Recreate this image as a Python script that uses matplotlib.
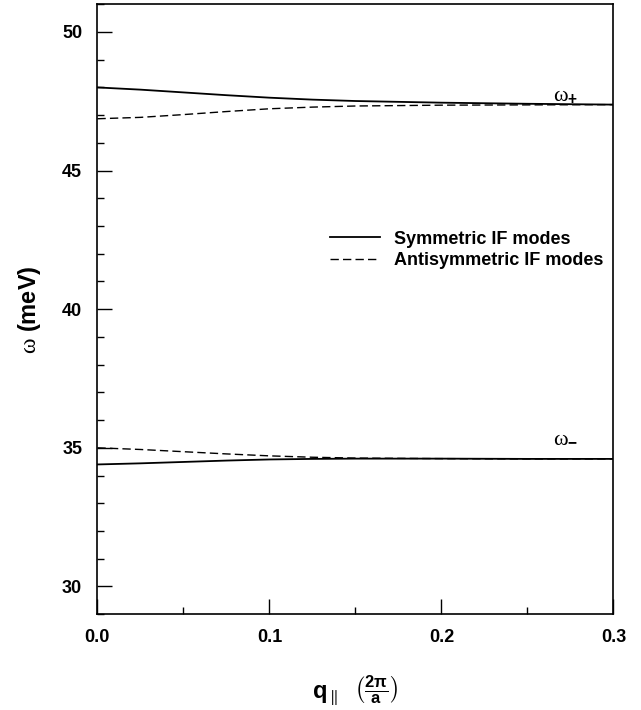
import numpy as np
import matplotlib
matplotlib.use("Agg")
import matplotlib.pyplot as plt
from matplotlib.ticker import MultipleLocator

plt.rcParams['font.family'] = ['Liberation Sans', 'DejaVu Sans']
plt.rcParams['mathtext.fontset'] = 'custom'
plt.rcParams['mathtext.rm'] = 'Liberation Sans:bold'
plt.rcParams['mathtext.bf'] = 'Liberation Sans:bold'
plt.rcParams['mathtext.it'] = 'Liberation Serif'

# wave vector q_parallel (2pi/a)
q = [0.0, 0.025, 0.05, 0.075, 0.1, 0.125, 0.15, 0.2, 0.25, 0.3]

# upper branch (omega+)
sym_upper = [48.00, 47.92, 47.82, 47.72, 47.63, 47.56, 47.51, 47.45, 47.41, 47.38]
anti_upper = [46.87, 46.92, 47.02, 47.13, 47.23, 47.29, 47.33, 47.36, 47.37, 47.38]

# lower branch (omega-)
sym_lower = [34.40, 34.44, 34.49, 34.54, 34.58, 34.60, 34.61, 34.61, 34.60, 34.60]
anti_lower = [35.00, 34.94, 34.86, 34.78, 34.71, 34.66, 34.63, 34.61, 34.60, 34.60]

fig, ax = plt.subplots(figsize=(6.41, 7.1), dpi=100)
fig.subplots_adjust(left=0.152, right=0.957, top=0.994, bottom=0.135)

ax.plot(q, sym_upper, 'k-', lw=1.3, label='Symmetric IF modes')
ax.plot(q, anti_upper, 'k--', lw=1.0, dashes=(6, 3), label='Antisymmetric IF modes')
ax.plot(q, sym_lower, 'k-', lw=1.3)
ax.plot(q, anti_lower, 'k--', lw=1.0, dashes=(6, 3))

ax.set_xlim(0, 0.3)
ax.set_ylim(29, 51)
ax.yaxis.set_major_locator(MultipleLocator(5))
ax.yaxis.set_minor_locator(MultipleLocator(1))
ax.xaxis.set_minor_locator(MultipleLocator(0.05))
ax.set_xticks([0.0, 0.1, 0.2, 0.3])
ax.set_xticklabels(['0.0', '0.1', '0.2', '0.3'])
ax.tick_params(which='major', direction='in', length=11, width=1, labelsize=13, pad=11)
ax.tick_params(which='minor', direction='in', length=5, width=1)
for lbl in ax.get_xticklabels() + ax.get_yticklabels():
    lbl.set_fontweight('bold')
for s in ax.spines.values():
    s.set_linewidth(1.2)

ax.set_ylabel(r'$\omega$ (meV)', fontsize=17, fontweight='bold', labelpad=14)
ax.set_xlabel(r'q$_{\parallel}$  $\left(\frac{\mathbf{2\pi}}{\mathbf{a}}\right)$', fontsize=17,
              fontweight='bold', labelpad=19)

ax.text(0.265, 47.55, r'$\omega_{+}$', fontsize=16)
ax.text(0.265, 35.2, r'$\omega_{-}$', fontsize=16)

leg = ax.legend(loc='upper left', bbox_to_anchor=(0.45, 0.629), frameon=False,
                prop={'weight': 'bold', 'size': 13}, handlelength=2.8,
                handletextpad=0.75, labelspacing=0.25, borderaxespad=0, borderpad=0)

fig.savefig('out.png', dpi=100)
